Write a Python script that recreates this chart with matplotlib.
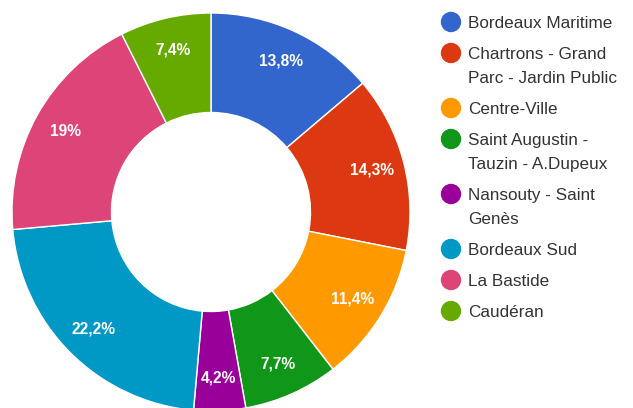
import numpy as np
import matplotlib.pyplot as plt

plt.rcParams['font.family'] = ['Liberation Sans', 'DejaVu Sans']

# donut data
quartiers = ['Bordeaux Maritime', 'Chartrons - Grand\nParc - Jardin Public', 'Centre-Ville',
             'Saint Augustin -\nTauzin - A.Dupeux', 'Nansouty - Saint\nGenès', 'Bordeaux Sud',
             'La Bastide', 'Caudéran']
parts = [13.8, 14.3, 11.4, 7.7, 4.2, 22.2, 19, 7.4]
pct_labels = ['13,8%', '14,3%', '11,4%', '7,7%', '4,2%', '22,2%', '19%', '7,4%']
colors = ['#3366cc', '#dc3912', '#ff9900', '#109618', '#990099', '#0099c6', '#dd4477', '#66aa00']

W, H = 633, 408
fig = plt.figure(figsize=(W / 100, H / 100), dpi=100)
ax = fig.add_axes([0, 0, 1, 1])

cx, cy, R = 211, H - 212, 199
wedges, _ = ax.pie(parts, colors=colors, startangle=90, counterclock=False,
                   center=(cx, cy), radius=R, frame=True,
                   wedgeprops=dict(width=R * 0.5, edgecolor='white', linewidth=1))
ax.set_xlim(0, W)
ax.set_ylim(0, H)
ax.set_aspect('equal')
ax.axis('off')

# percentage labels inside the ring
for w, lab in zip(wedges, pct_labels):
    ang = np.deg2rad((w.theta1 + w.theta2) / 2)
    r = 0.835 * R
    ax.text(cx + r * np.cos(ang), cy + r * np.sin(ang), lab, color='white',
            fontsize=11.2, fontweight='bold', ha='center', va='center')

# legend on the right
y = H - 22
for name, c in zip(quartiers, colors):
    ax.add_patch(plt.Circle((451, y), 9.5, color=c))
    for line in name.split('\n'):
        ax.text(468, y, line, fontsize=12.3, color='#333333', ha='left', va='center_baseline')
        y -= 24
    y -= 7

fig.savefig('out.png', dpi=100)
